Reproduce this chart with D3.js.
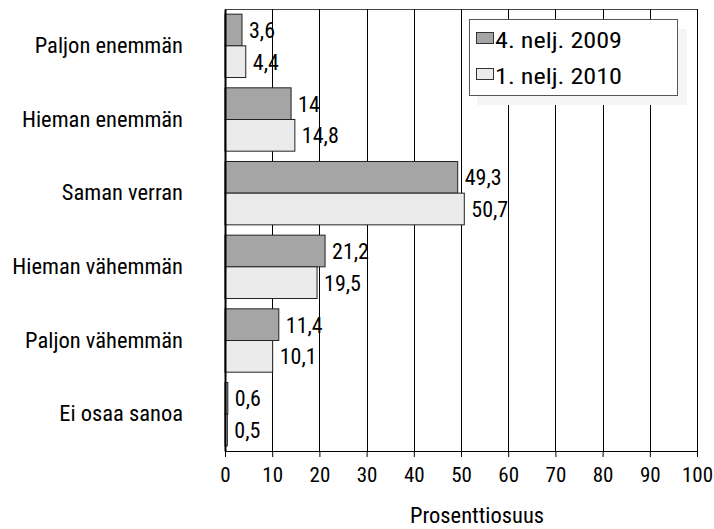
<!DOCTYPE html>
<html>
<head>
<meta charset="utf-8">
<script src="https://cdn.jsdelivr.net/npm/d3@7"></script>
<style>
  html, body { margin: 0; padding: 0; background: #fff; }
  svg text { font-family: "Roboto Condensed", "DejaVu Sans Condensed", sans-serif; font-weight: 400; fill: #000; }
</style>
</head>
<body>
<svg id="chart" width="714" height="529"></svg>
<script>
// Answer categories, top to bottom
const categories = ["Paljon enemmän", "Hieman enemmän", "Saman verran", "Hieman vähemmän", "Paljon vähemmän", "Ei osaa sanoa"];
// Survey rounds
const seriesNames = ["4. nelj. 2009", "1. nelj. 2010"];
// Shares (%) per round
const q4_2009 = [3.6, 14, 49.3, 21.2, 11.4, 0.6];
const q1_2010 = [4.4, 14.8, 50.7, 19.5, 10.1, 0.5];
// Value axis ticks
const xTicks = [0, 10, 20, 30, 40, 50, 60, 70, 80, 90, 100];
const axisTitle = "Prosenttiosuus";

const seriesValues = [q4_2009, q1_2010];
const fills = ["#a5a5a5", "#ebebeb"];
const FONT = "'Roboto Condensed', 'DejaVu Sans Condensed', sans-serif";

const svg = d3.select("#chart");
const plot = { left: 225, right: 697, top: 9, bottom: 451 };

const x = d3.scaleLinear().domain([0, 100]).range([plot.left, plot.right]);
const y = d3.scaleBand().domain(categories).range([plot.top, plot.bottom])
  .paddingInner(0.14).paddingOuter(0.07);
const ySub = d3.scaleBand().domain(seriesNames).range([0, y.bandwidth()]);

// Frame top line
svg.append("line")
  .attr("x1", plot.left).attr("x2", plot.right)
  .attr("y1", plot.top + 0.5).attr("y2", plot.top + 0.5)
  .attr("stroke", "#444").attr("stroke-width", 1);

// Vertical gridlines
svg.append("g").selectAll("line").data(xTicks.slice(1)).join("line")
  .attr("x1", d => Math.round(x(d)) + 0.5).attr("x2", d => Math.round(x(d)) + 0.5)
  .attr("y1", plot.top).attr("y2", plot.bottom)
  .attr("stroke", "#000").attr("stroke-width", 1);

// Bars with value labels
const groups = svg.append("g").selectAll("g").data(categories).join("g")
  .attr("transform", d => `translate(0,${y(d)})`);

groups.each(function(cat, i) {
  const g = d3.select(this);
  seriesNames.forEach((s, j) => {
    const v = seriesValues[j][i];
    g.append("rect")
      .attr("x", x(0))
      .attr("y", ySub(s))
      .attr("width", x(v) - x(0))
      .attr("height", ySub.bandwidth())
      .attr("fill", fills[j])
      .attr("stroke", "#222")
      .attr("stroke-width", 1);
    g.append("text")
      .attr("x", x(v) + 7)
      .attr("y", ySub(s) + ySub.bandwidth() / 2)
      .attr("dy", "0.36em")
      .attr("font-size", 22)
      .text(String(v).replace(".", ","));
  });
});

// Legend with soft shadow
const lg = svg.append("g").attr("transform", "translate(469,19)");
lg.append("rect").attr("x", 8).attr("y", 10).attr("width", 210).attr("height", 76).attr("fill", "#f5f5f5");
lg.append("rect").attr("x", 0.5).attr("y", 0.5).attr("width", 208).attr("height", 76)
  .attr("fill", "#fff").attr("stroke", "#555").attr("stroke-width", 1);
seriesNames.forEach((s, j) => {
  lg.append("rect").attr("x", 7.5).attr("y", 13.5 + j * 36).attr("width", 17).attr("height", 11)
    .attr("fill", fills[j]).attr("stroke", "#333").attr("stroke-width", 1);
  lg.append("text").attr("x", 26).attr("y", 29 + j * 36).attr("font-size", 22.5)
    .attr("textLength", 127).attr("lengthAdjust", "spacingAndGlyphs").text(s);
});

// Category axis
const yAxis = svg.append("g").attr("transform", `translate(${plot.left},0)`)
  .call(d3.axisLeft(y).tickSize(0).tickPadding(42));
yAxis.select(".domain").attr("stroke", "#000").attr("stroke-width", 2);
yAxis.selectAll("text").attr("font-size", 22.5).style("font-family", FONT);

// Value axis
const xAxis = svg.append("g").attr("transform", `translate(0,${plot.bottom})`)
  .call(d3.axisBottom(x).tickValues(xTicks).tickSize(6).tickPadding(10).tickSizeOuter(0));
xAxis.select(".domain").attr("stroke", "#000").attr("stroke-width", 1);
xAxis.selectAll(".tick line").attr("stroke", "#000");
xAxis.selectAll("text").attr("font-size", 21).style("font-family", FONT);

svg.append("text").attr("x", 477).attr("y", 523).attr("text-anchor", "middle")
  .attr("font-size", 22.5).text(axisTitle);
</script>
</body>
</html>
